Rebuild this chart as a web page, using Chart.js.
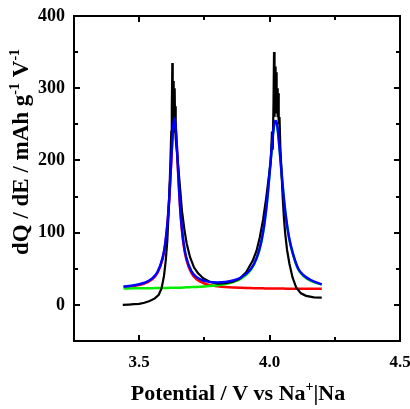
<!DOCTYPE html>
<html>
<head>
<meta charset="utf-8">
<script src="https://cdn.jsdelivr.net/npm/chart.js@4.4.1/dist/chart.umd.min.js"></script>
<style>
  html, body { margin: 0; padding: 0; background: #fff; }
  #wrap { width: 410px; height: 409px; }
</style>
</head>
<body>
<div id="wrap"><canvas id="c" width="410" height="409"></canvas></div>
<script>
// Experimental dQ/dE curve (black)
const potentialMeasured = [3.437, 3.46, 3.48, 3.50, 3.52, 3.54, 3.56, 3.575, 3.586, 3.595,
  3.602, 3.608, 3.614, 3.619, 3.623, 3.625, 3.627, 3.6285, 3.630, 3.6315,
  3.633, 3.6345, 3.636, 3.6375, 3.639, 3.641, 3.645, 3.650, 3.656, 3.664,
  3.673, 3.682, 3.695, 3.71, 3.725, 3.745, 3.77, 3.80, 3.83, 3.86,
  3.885, 3.91, 3.935, 3.95, 3.962, 3.975, 3.987, 3.998, 4.005, 4.009,
  4.012, 4.015, 4.017, 4.019, 4.021, 4.023, 4.025, 4.027, 4.029, 4.031,
  4.033, 4.035, 4.038, 4.041, 4.045, 4.050, 4.055, 4.060, 4.067, 4.076,
  4.088, 4.102, 4.12, 4.14, 4.17, 4.20];
const dqdeMeasured = [0, 0.5, 1, 1.5, 3, 5.5, 9, 14, 23, 40,
  62, 90, 140, 190, 240, 270, 335, 240, 310, 250,
  295, 240, 300, 255, 275, 230, 212, 190, 165, 130,
  105, 85, 66, 52, 44, 37, 32, 29.5, 30, 32,
  36, 45, 61, 75, 93, 118, 148, 180, 200, 240,
  215, 280, 350, 260, 330, 270, 322, 265, 300, 260,
  293, 250, 260, 220, 190, 150, 120, 98, 76, 57,
  38, 24, 16, 12.5, 10.5, 10];

// Fitted curves
const potentialFit = [3.44, 3.48, 3.52, 3.55, 3.57, 3.59, 3.60, 3.61, 3.615, 3.62,
  3.625, 3.63, 3.635, 3.64, 3.645, 3.65, 3.655, 3.66, 3.67, 3.68,
  3.70, 3.72, 3.75, 3.78, 3.80, 3.83, 3.86, 3.89, 3.92, 3.94,
  3.96, 3.975, 3.99, 4.00, 4.01, 4.015, 4.02, 4.025, 4.03, 4.035,
  4.04, 4.05, 4.06, 4.075, 4.09, 4.11, 4.13, 4.16, 4.20];
const fitTotal = [25.5, 27.1, 30.7, 36.7, 45.5, 65.4, 85.5, 120.6, 146.6, 179.6,
  215.7, 245.7, 258.7, 245.7, 215.8, 179.8, 146.8, 120.9, 86.1, 66.3,
  46.8, 38.4, 33.2, 31.3, 31.1, 31.7, 33.7, 37.9, 46.2, 56.6,
  75.6, 100.8, 142.8, 182.8, 225.7, 243.7, 253.7, 254.7, 246.7, 229.6,
  208.6, 165.6, 129.6, 92.5, 70.2, 50, 41, 34, 28.5];
const fitPeak1 = [24.7, 26.2, 29.6, 35.5, 44.2, 64, 84, 119, 145, 178,
  214, 244, 257, 244, 214, 178, 145, 119, 84, 64,
  44.2, 35.5, 29.6, 26.8, 25.8, 24.7, 24.0, 23.6, 23.3, 23.1,
  23.0, 22.9, 22.8, 22.8, 22.7, 22.7, 22.7, 22.7, 22.6, 22.6,
  22.6, 22.6, 22.5, 22.5, 22.5, 22.4, 22.4, 22.3, 22.3];
const fitPeak2 = [22.8, 22.9, 23.1, 23.2, 23.3, 23.4, 23.5, 23.5, 23.6, 23.6,
  23.6, 23.7, 23.7, 23.7, 23.8, 23.8, 23.8, 23.9, 24.1, 24.3,
  24.6, 24.9, 25.6, 26.5, 27.3, 29.0, 31.7, 36.3, 44.9, 55.5,
  74.6, 99.9, 142, 182, 225, 243, 253, 254, 246, 229,
  208, 165, 129, 92, 69.7, 49, 40, 33, 28];

// Axis tick labels and titles ([text, superscript?] runs)
const xTickLabels = [3.5, 4.0, 4.5];
const yTickLabels = [0, 100, 200, 300, 400];
const xTitleRuns = [['Potential / V vs Na', false], ['+', true], ['|Na', false]];
const yTitleRuns = [['dQ / dE / mAh g', false], ['-1', true], [' V', false], ['-1', true]];

const pts = (xs, ys) => xs.map((x, i) => ({ x: x, y: ys[i] }));
const isLabeled = (list, v) => list.some(t => Math.abs(t - v) < 1e-6);

const FONT = '"Liberation Serif", "Times New Roman", serif';

const frameTicks = {
  id: 'frameTicks',
  afterDatasetsDraw(chart) {
    const { ctx, chartArea: a, scales } = chart;
    const x = scales.x, y = scales.y;
    ctx.save();
    ctx.strokeStyle = '#000';
    ctx.lineWidth = 2;
    ctx.strokeRect(a.left, a.top, a.right - a.left, a.bottom - a.top);
    ctx.beginPath();
    x.ticks.forEach(t => {
      const px = Math.round(x.getPixelForValue(t.value));
      const L = isLabeled(xTickLabels, t.value) ? 6 : 4;
      ctx.moveTo(px, a.bottom); ctx.lineTo(px, a.bottom - L);
      ctx.moveTo(px, a.top); ctx.lineTo(px, a.top + L);
    });
    y.ticks.forEach(t => {
      const py = Math.round(y.getPixelForValue(t.value));
      const L = isLabeled(yTickLabels, t.value) ? 6 : 4;
      ctx.moveTo(a.left, py); ctx.lineTo(a.left + L, py);
      ctx.moveTo(a.right, py); ctx.lineTo(a.right - L, py);
    });
    ctx.stroke();
    ctx.restore();
  }
};

function drawRuns(ctx, runs, size, supSize, rise, centerX) {
  ctx.textAlign = 'left';
  ctx.textBaseline = 'alphabetic';
  let total = 0;
  runs.forEach(([txt, sup]) => {
    ctx.font = 'bold ' + (sup ? supSize : size) + 'px ' + FONT;
    total += ctx.measureText(txt).width;
  });
  let cx = centerX - total / 2;
  runs.forEach(([txt, sup]) => {
    ctx.font = 'bold ' + (sup ? supSize : size) + 'px ' + FONT;
    ctx.fillText(txt, cx, sup ? -rise : 0);
    cx += ctx.measureText(txt).width;
  });
}

const axisTitles = {
  id: 'axisTitles',
  afterDraw(chart) {
    const ctx = chart.ctx;
    const a = chart.chartArea;
    ctx.save();
    ctx.fillStyle = '#000';
    ctx.save();
    ctx.translate(0, 400);
    drawRuns(ctx, xTitleRuns, 22, 14, 9, (a.left + a.right) / 2 + 1);
    ctx.restore();
    ctx.save();
    ctx.translate(28, 0);
    ctx.rotate(-Math.PI / 2);
    drawRuns(ctx, yTitleRuns, 23, 14, 9, -152);
    ctx.restore();
    ctx.restore();
  }
};

new Chart(document.getElementById('c'), {
  type: 'line',
  data: {
    datasets: [
      { label: 'Fit', data: pts(potentialFit, fitTotal), borderColor: '#0000ff', borderWidth: 2.5,
        pointRadius: 0, cubicInterpolationMode: 'monotone', order: 0 },
      { label: 'Measured', data: pts(potentialMeasured, dqdeMeasured), borderColor: '#000000', borderWidth: 2.2,
        pointRadius: 0, tension: 0, order: 1 },
      { label: 'Peak 2', data: pts(potentialFit, fitPeak2), borderColor: '#00ee00', borderWidth: 2.5,
        pointRadius: 0, cubicInterpolationMode: 'monotone', order: 2 },
      { label: 'Peak 1', data: pts(potentialFit, fitPeak1), borderColor: '#ff0000', borderWidth: 2.5,
        pointRadius: 0, cubicInterpolationMode: 'monotone', order: 3 }
    ]
  },
  options: {
    responsive: false,
    animation: false,
    events: [],
    layout: { autoPadding: false, padding: { left: 0, top: 16, right: 10, bottom: 0 } },
    plugins: { legend: { display: false }, tooltip: { enabled: false } },
    scales: {
      x: {
        type: 'linear', min: 3.25, max: 4.5,
        afterFit: s => { s.height = 68; s.paddingLeft = 0; s.paddingRight = 0; },
        grid: { display: false, drawTicks: false },
        border: { display: false },
        ticks: {
          stepSize: 0.25, padding: 11, color: '#000', maxRotation: 0, autoSkip: false,
          font: { family: FONT, size: 17, weight: 'bold' },
          callback: v => isLabeled(xTickLabels, v) ? Number(v).toFixed(1) : ''
        },
        title: { display: false }
      },
      y: {
        type: 'linear', min: -50, max: 400,
        afterFit: s => { s.width = 74; s.paddingTop = 0; s.paddingBottom = 0; },
        grid: { display: false, drawTicks: false },
        border: { display: false },
        ticks: {
          stepSize: 50, padding: 9, color: '#000', autoSkip: false,
          font: { family: FONT, size: 18, weight: 'bold' },
          callback: v => isLabeled(yTickLabels, v) ? String(v) : ''
        },
        title: { display: false }
      }
    }
  },
  plugins: [frameTicks, axisTitles]
});
</script>
</body>
</html>
